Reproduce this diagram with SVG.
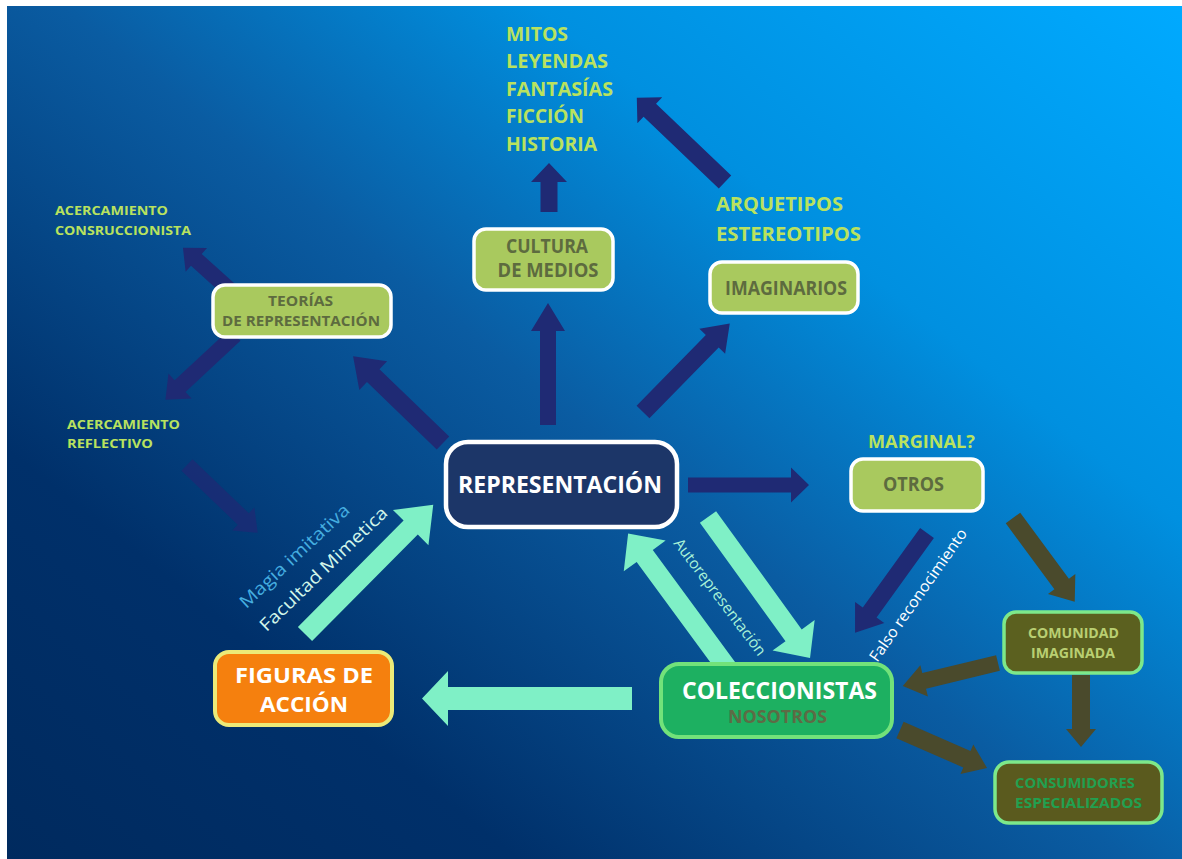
<svg xmlns="http://www.w3.org/2000/svg" width="1182" height="859" viewBox="0 0 1182 859">
<defs>
<linearGradient id="bg" gradientUnits="userSpaceOnUse" x1="1182" y1="0" x2="300" y2="1100">
<stop offset="0" stop-color="#00aaff"/>
<stop offset="0.29" stop-color="#0090e0"/>
<stop offset="0.5" stop-color="#0a5ca2"/>
<stop offset="0.77" stop-color="#00306a"/>
<stop offset="1" stop-color="#002a5e"/>
</linearGradient>
<style>
.b{font-family:"Open Sans","Liberation Sans",sans-serif;font-weight:700}
.r{font-family:"Open Sans","Liberation Sans",sans-serif;font-weight:400}
.navy{fill:#1f2a74}
.mint{fill:#7ff0c6}
.olive{fill:#4a4a2c}
.lg rect{fill:#a9c95e;stroke:#ffffff;stroke-width:3.5}
.lg text{fill:#5d6b3f}
.yg{fill:#b9e25e}
.dk rect{stroke:#7de88a;stroke-width:3.5}
</style>
</defs>
<rect x="0" y="0" width="1182" height="859" fill="#ffffff"/>
<rect x="7" y="6" width="1175" height="853" fill="url(#bg)"/>

<g id="connectors">
<polygon class="navy" transform="translate(443,443) rotate(-136)" points="0,-9 97,-9 97,-20 125,0 97,20 97,9 0,9"/>
<polygon class="navy" transform="translate(548,425) rotate(-90)" points="0,-8 94,-8 94,-17 122,0 94,17 94,8 0,8"/>
<polygon class="navy" transform="translate(549,212) rotate(-90)" points="0,-8.5 30,-8.5 30,-18 49,0 30,18 30,8.5 0,8.5"/>
<polygon class="navy" transform="translate(643,412) rotate(-45.6)" points="0,-9 99,-9 99,-18 124,0 99,18 99,9 0,9"/>
<polygon class="navy" transform="translate(725,182) rotate(-136.3)" points="0,-9 104,-9 104,-18 122,0 104,18 104,9 0,9"/>
<polygon class="navy" transform="translate(232,292) rotate(-138)" points="0,-8 48,-8 48,-16 66,0 48,16 48,8 0,8"/>
<polygon class="navy" transform="translate(235,335) rotate(137.1)" points="0,-8 75,-8 75,-17 95,0 75,17 75,8 0,8"/>
<polygon class="navy" opacity="0.75" transform="translate(187,465) rotate(43.8)" points="0,-8 78,-8 78,-16 98,0 78,16 78,8 0,8"/>
<polygon class="navy" transform="translate(688,485)" points="0,-7.5 103,-7.5 103,-17.5 121,0 103,17.5 103,7.5 0,7.5"/>
<polygon class="navy" transform="translate(927,533) rotate(125.8)" points="0,-8.5 98,-8.5 98,-18 123,0 98,18 98,8.5 0,8.5"/>
<polygon class="olive" transform="translate(1013,518) rotate(53.6)" points="0,-9 82,-9 82,-17 104,0 82,17 82,9 0,9"/>
<polygon class="olive" transform="translate(1081,675) rotate(90)" points="0,-9 54,-9 54,-15 72,0 54,15 54,9 0,9"/>
<polygon class="olive" transform="translate(998,663) rotate(166.4)" points="0,-8 76,-8 76,-16 98,0 76,16 76,8 0,8"/>
<polygon class="olive" transform="translate(900,730) rotate(23.6)" points="0,-9 73,-9 73,-16 95,0 73,16 73,9 0,9"/>
<polygon class="mint" transform="translate(708,517) rotate(54.1)" points="0,-10 146,-10 146,-26 174,0 146,26 146,10 0,10"/>
<polygon class="mint" transform="translate(727,668) rotate(-126.3)" points="0,-10 139,-10 139,-26 167,0 139,26 139,10 0,10"/>
<polygon class="mint" transform="translate(305,634) rotate(-45.2)" points="0,-10 150,-10 150,-25 182,0 150,25 150,10 0,10"/>
<polygon class="mint" transform="translate(632,698.5) rotate(180)" points="0,-11.5 184,-11.5 184,-27.5 210,0 184,27.5 184,11.5 0,11.5"/>
<text class="r" transform="translate(720,597) rotate(53)" x="0" y="5.5" text-anchor="middle" font-size="15.5" fill="#a8f2d8" textLength="142" lengthAdjust="spacingAndGlyphs">Autorepresentación</text>
<text class="r" transform="translate(918,595) rotate(-55)" x="0" y="5.5" text-anchor="middle" font-size="15.5" fill="#ffffff" textLength="158" lengthAdjust="spacingAndGlyphs">Falso reconocimiento</text>
<text class="r" transform="translate(294.5,556) rotate(-43)" x="0" y="6" text-anchor="middle" font-size="17.5" fill="#45aee0" textLength="143" lengthAdjust="spacingAndGlyphs">Magia imitativa</text>
<text class="r" transform="translate(323.5,569) rotate(-44)" x="0" y="6" text-anchor="middle" font-size="17.5" fill="#d2f6ea" textLength="170" lengthAdjust="spacingAndGlyphs">Facultad Mimetica</text>
</g>

<g id="node-teorias" class="lg">
<rect x="213" y="285" width="178" height="52" rx="12"/>
<text class="b" x="300.5" y="306" text-anchor="middle" font-size="14.5" textLength="65" lengthAdjust="spacingAndGlyphs">TEORÍAS</text>
<text class="b" x="301" y="326" text-anchor="middle" font-size="14.5" textLength="158" lengthAdjust="spacingAndGlyphs">DE REPRESENTACIÓN</text>
</g>
<g id="node-cultura" class="lg">
<rect x="474" y="229" width="139" height="61" rx="12"/>
<text class="b" x="547" y="253" text-anchor="middle" font-size="19" textLength="82" lengthAdjust="spacingAndGlyphs">CULTURA</text>
<text class="b" x="548" y="277" text-anchor="middle" font-size="19" textLength="101" lengthAdjust="spacingAndGlyphs">DE MEDIOS</text>
</g>
<g id="node-imaginarios" class="lg">
<rect x="710" y="262" width="148" height="51" rx="12"/>
<text class="b" x="786" y="295" text-anchor="middle" font-size="19" textLength="122" lengthAdjust="spacingAndGlyphs">IMAGINARIOS</text>
</g>
<g id="node-otros" class="lg">
<rect x="851" y="459" width="132" height="52" rx="12"/>
<text class="b" x="913.5" y="491" text-anchor="middle" font-size="19" textLength="61" lengthAdjust="spacingAndGlyphs">OTROS</text>
</g>
<g id="node-mitos" class="b yg" font-size="19">
<text x="506" y="41" textLength="62" lengthAdjust="spacingAndGlyphs">MITOS</text>
<text x="506" y="68" textLength="102" lengthAdjust="spacingAndGlyphs">LEYENDAS</text>
<text x="506" y="96" textLength="107" lengthAdjust="spacingAndGlyphs">FANTASÍAS</text>
<text x="506" y="123" textLength="78" lengthAdjust="spacingAndGlyphs">FICCIÓN</text>
<text x="506" y="151" textLength="91" lengthAdjust="spacingAndGlyphs">HISTORIA</text>
</g>
<g id="node-arquetipos" class="b yg" font-size="19">
<text x="716" y="211" textLength="127" lengthAdjust="spacingAndGlyphs">ARQUETIPOS</text>
<text x="716" y="241" textLength="145" lengthAdjust="spacingAndGlyphs">ESTEREOTIPOS</text>
</g>
<g id="node-construccionista" class="b yg" font-size="13">
<text x="55" y="215" textLength="113" lengthAdjust="spacingAndGlyphs">ACERCAMIENTO</text>
<text x="55" y="235" textLength="136" lengthAdjust="spacingAndGlyphs">CONSRUCCIONISTA</text>
</g>
<g id="node-reflectivo" class="b yg" font-size="13">
<text x="67" y="429" textLength="113" lengthAdjust="spacingAndGlyphs">ACERCAMIENTO</text>
<text x="67" y="448" textLength="86" lengthAdjust="spacingAndGlyphs">REFLECTIVO</text>
</g>
<g id="node-marginal" class="b yg" font-size="17">
<text x="868" y="448" textLength="107" lengthAdjust="spacingAndGlyphs">MARGINAL?</text>
</g>
<g id="node-representacion">
<rect x="446" y="442" width="231" height="85" rx="22" fill="#1c3668" stroke="#ffffff" stroke-width="4.5"/>
<text class="b" x="560" y="493" text-anchor="middle" font-size="23" fill="#ffffff" textLength="204" lengthAdjust="spacingAndGlyphs">REPRESENTACIÓN</text>
</g>
<g id="node-coleccionistas">
<rect x="661" y="664" width="231" height="73" rx="18" fill="#1db061" stroke="#72e27a" stroke-width="4"/>
<text class="b" x="779.5" y="699" text-anchor="middle" font-size="23" fill="#ffffff" textLength="195" lengthAdjust="spacingAndGlyphs">COLECCIONISTAS</text>
<text class="b" x="777.5" y="723" text-anchor="middle" font-size="17" fill="#5d6b45" textLength="99" lengthAdjust="spacingAndGlyphs">NOSOTROS</text>
</g>
<g id="node-figuras">
<rect x="215" y="652" width="177" height="73" rx="14" fill="#f5800e" stroke="#ecea78" stroke-width="4"/>
<text class="b" x="304" y="683" text-anchor="middle" font-size="22" fill="#ffffff" textLength="138" lengthAdjust="spacingAndGlyphs">FIGURAS DE</text>
<text class="b" x="304" y="712" text-anchor="middle" font-size="22" fill="#ffffff" textLength="88" lengthAdjust="spacingAndGlyphs">ACCIÓN</text>
</g>
<g id="node-comunidad" class="dk">
<rect x="1004" y="612" width="138" height="61" rx="12" fill="#5b601f"/>
<text class="b" x="1073.5" y="638" text-anchor="middle" font-size="14.5" fill="#b9cf72" textLength="91" lengthAdjust="spacingAndGlyphs">COMUNIDAD</text>
<text class="b" x="1073" y="658" text-anchor="middle" font-size="14.5" fill="#b9cf72" textLength="84" lengthAdjust="spacingAndGlyphs">IMAGINADA</text>
</g>
<g id="node-consumidores" class="dk">
<rect x="995" y="762" width="167" height="61" rx="14" fill="#5a5a1e"/>
<text class="b" x="1075" y="788" text-anchor="middle" font-size="14.5" fill="#22a050" textLength="120" lengthAdjust="spacingAndGlyphs">CONSUMIDORES</text>
<text class="b" x="1078.5" y="808" text-anchor="middle" font-size="14.5" fill="#22a050" textLength="127" lengthAdjust="spacingAndGlyphs">ESPECIALIZADOS</text>
</g>
</svg>
